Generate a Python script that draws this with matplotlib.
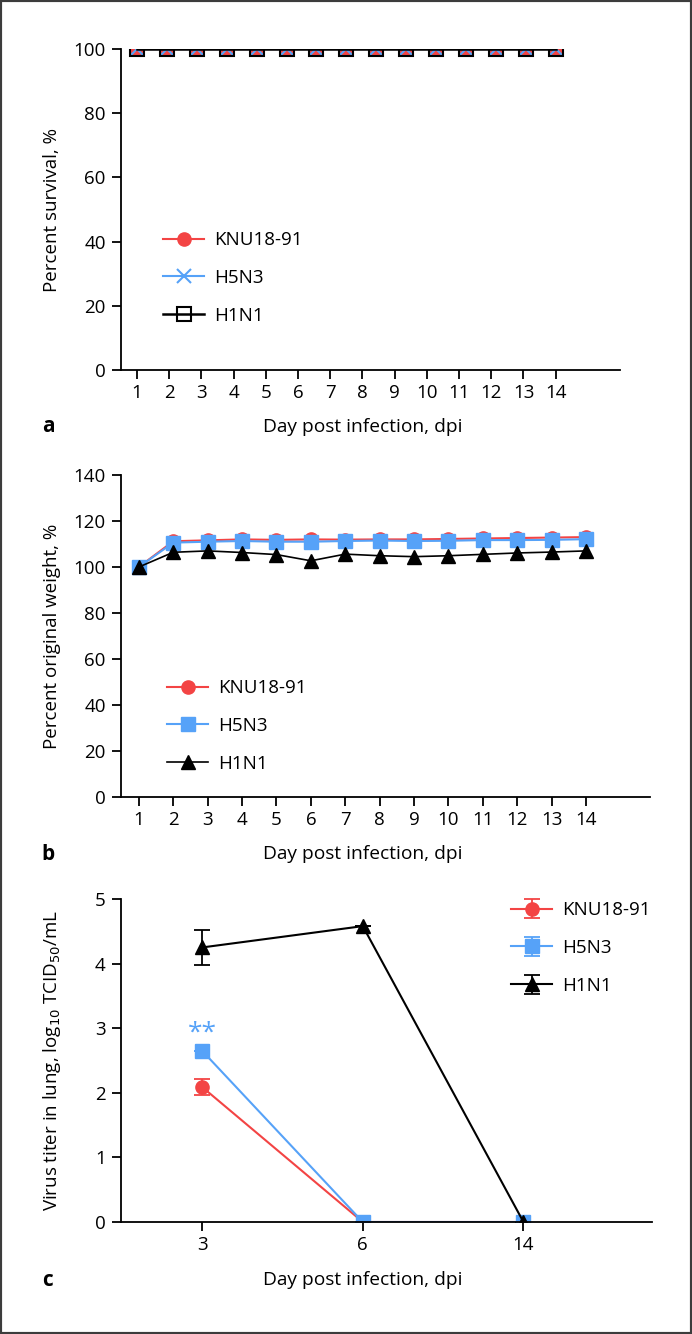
import matplotlib
matplotlib.use("Agg")
import numpy as np
import matplotlib.pyplot as plt
from matplotlib.patches import Rectangle

plt.rcParams['font.family'] = ['Open Sans', 'DejaVu Sans']
plt.rcParams['font.size'] = 13.5

# ---------------- data ----------------
series = ["KNU18-91", "H5N3", "H1N1"]
colors = {"KNU18-91": "#F34444", "H5N3": "#56A2F8", "H1N1": "#000000"}

# panel a: survival (15 observations, axis labelled 1..14)
surv_days = [0, 1, 2, 3, 4, 5, 6, 7, 8, 9, 10, 11, 12, 13, 14]
surv_tick_labels = ["1", "2", "3", "4", "5", "6", "7", "8", "9", "10", "11", "12", "13", "14"]
surv_knu = [100] * 15
surv_h5n3 = [100] * 15
surv_h1n1 = [100] * 15

# panel b: weight
wt_days = [1, 2, 3, 4, 5, 6, 7, 8, 9, 10, 11, 12, 13, 14]
wt_knu = [100, 111.2, 111.6, 112.0, 111.8, 112.0, 111.9, 112.0, 112.0, 112.2, 112.4, 112.6, 112.8, 113.0]
wt_h5n3 = [100, 110.6, 111.0, 111.3, 111.0, 111.0, 111.3, 111.5, 111.3, 111.4, 111.7, 111.7, 111.8, 112.1]
wt_h1n1 = [100, 106.4, 107.0, 106.3, 105.4, 102.7, 105.6, 104.9, 104.5, 104.9, 105.5, 106.1, 106.5, 107.0]

# panel c: lung titer
titer_days = ["3", "6", "14"]
titer_knu = [2.09, 0, 0]
titer_knu_err = [0.12, 0, 0]
titer_h5n3 = [2.65, 0, 0]
titer_h5n3_err = [0, 0, 0]
titer_h1n1 = [4.25, 4.58, 0]
titer_h1n1_err = [0.265, 0, 0]

W, H = 692, 1334
fig = plt.figure(figsize=(W / 100, H / 100), dpi=100)
FS = 13.5


def ax_at(left, right, top, bottom):
    return fig.add_axes([left / W, 1 - bottom / H, (right - left) / W, (bottom - top) / H])


def style(ax):
    for s in ("top", "right"):
        ax.spines[s].set_visible(False)
    for s in ("left", "bottom"):
        ax.spines[s].set_linewidth(1.3)
    ax.tick_params(direction="out", length=6.5, width=1.3, labelsize=FS)
    ax.tick_params(axis="x", pad=3.5)
    ax.tick_params(axis="y", pad=4.5)


leg_kw = dict(frameon=False, handlelength=2.2, handletextpad=0.5, labelspacing=1.05,
              fontsize=FS, borderaxespad=0, borderpad=0, loc="center left")

# ---------- panel a ----------
axa = ax_at(121, 620, 49, 370)
style(axa)
axa.plot(surv_days, surv_knu, color=colors["KNU18-91"], marker="o", ms=9.5, lw=1.5, label="KNU18-91")
axa.plot(surv_days, surv_h5n3, color=colors["H5N3"], marker="x", ms=10, mew=1.5, lw=1.5, label="H5N3")
axa.plot(surv_days, surv_h1n1, color="black", marker="s", ms=9.5, mfc="none", mew=1.5, lw=1.8, label="H1N1")
axa.set_xlim(-0.535, 16.15)
axa.set_ylim(0, 100)
axa.set_xticks(np.linspace(surv_days[0], surv_days[-1], len(surv_tick_labels)))
axa.set_xticklabels(surv_tick_labels)
axa.set_yticks([0, 20, 40, 60, 80, 100])
axa.set_ylabel("Percent survival, %", fontsize=FS)
axa.legend(bbox_to_anchor=((163 - 121) / 499, (370 - 278) / 321), **leg_kw)

# ---------- panel b ----------
axb = ax_at(121, 650, 475, 797)
style(axb)
axb.plot(wt_days, wt_knu, color=colors["KNU18-91"], marker="o", ms=9.5, lw=1.5, label="KNU18-91")
axb.plot(wt_days, wt_h5n3, color=colors["H5N3"], marker="s", ms=9.5, lw=1.5, label="H5N3")
axb.plot(wt_days, wt_h1n1, color="black", marker="^", ms=9.5, lw=1.2, label="H1N1")
axb.set_xlim(0.48, 15.86)
axb.set_ylim(0, 140)
axb.set_xticks(wt_days)
axb.set_yticks(range(0, 141, 20))
axb.set_ylabel("Percent original weight, %", fontsize=FS)
axb.legend(bbox_to_anchor=((167 - 121) / 529, (797 - 726) / 322), **leg_kw)

# ---------- panel c ----------
axc = ax_at(121, 652, 899, 1222)
style(axc)
xc = list(range(len(titer_days)))
ekw = dict(ms=9.5, lw=1.5, capsize=6, capthick=1.3, elinewidth=1.3)
axc.errorbar(xc, titer_knu, yerr=titer_knu_err, color=colors["KNU18-91"], marker="o", label="KNU18-91", **ekw)
axc.errorbar(xc, titer_h5n3, yerr=titer_h5n3_err, color=colors["H5N3"], marker="s", label="H5N3", **ekw)
axc.errorbar(xc, titer_h1n1, yerr=titer_h1n1_err, color="black", marker="^", label="H1N1", **ekw)
axc.text(xc[0], titer_h5n3[0] + 0.08, "**", color=colors["H5N3"], ha="center", va="bottom", fontsize=19)
axc.set_xlim(-0.505, 2.8)
axc.set_ylim(0, 5)
axc.set_xticks(xc)
axc.set_xticklabels(titer_days)
axc.set_yticks(range(0, 6))
axc.set_ylabel(r"Virus titer in lung, log$_{10}$ TCID$_{50}$/mL", fontsize=FS)
handles, labels = axc.get_legend_handles_labels()
axc.legend(handles, labels, bbox_to_anchor=((511 - 121) / 531, (1222 - 948) / 323), **leg_kw)

for a, w in ((axa, 499), (axb, 529), (axc, 531)):
    a.yaxis.set_label_coords(-(121 - 52) / w, 0.5)
    a.yaxis.label.set_verticalalignment("center")

# x labels and panel letters
for y in (427, 854, 1280):
    fig.text(363 / W, 1 - y / H, "Day post infection, dpi", ha="center", va="center", fontsize=13.8)
for y, t in ((427, "a"), (854, "b"), (1280, "c")):
    fig.text(48 / W, 1 - y / H, t, ha="center", va="center", fontsize=15, fontweight="bold")

fig.patches.append(Rectangle((0, 0), 1, 1, transform=fig.transFigure, fill=False,
                             edgecolor="#3c3c3c", linewidth=3))

fig.savefig("out.png", dpi=100)
